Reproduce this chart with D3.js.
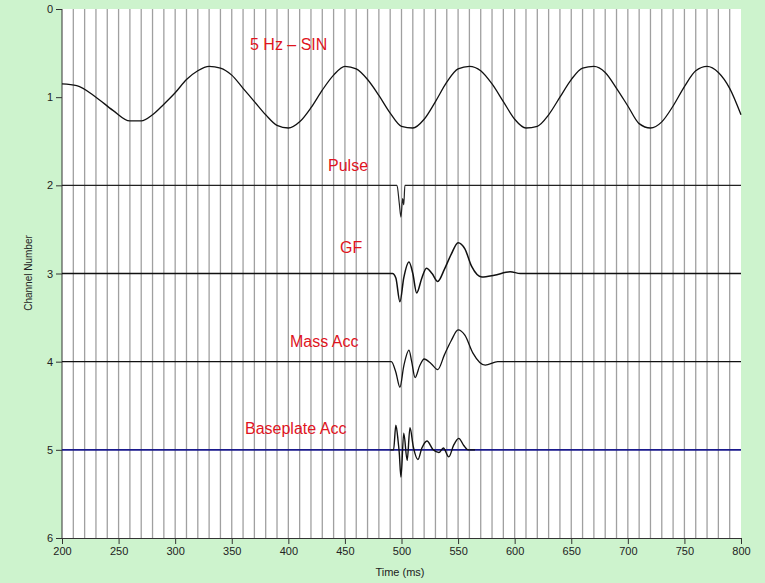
<!DOCTYPE html>
<html><head><meta charset="utf-8">
<script src="https://cdn.jsdelivr.net/npm/d3@7"></script>
<style>body{margin:0;background:#fff}</style></head>
<body><svg id="c" width="765" height="583"></svg>
<script>
const channelTicks=[0,1,2,3,4,5,6];
const timeTicks=[200,250,300,350,400,450,500,550,600,650,700,750,800];
const sinT=[200,213,230,245,260,270,280,290,300,310,320,330,340,350,360,370,380,390,400,410,420,430,440,450,460,470,480,490,500,510,520,530,540,550,560,570,580,590,600,610,620,630,640,650,660,670,680,690,700,710,720,730,740,750,760,770,780,790,800];
const sinV=[0.85,0.87,1.0,1.15,1.27,1.27,1.2,1.08,0.95,0.8,0.7,0.65,0.67,0.75,0.9,1.05,1.2,1.32,1.35,1.28,1.12,0.92,0.75,0.65,0.68,0.8,0.98,1.18,1.33,1.35,1.25,1.05,0.83,0.68,0.65,0.7,0.85,1.05,1.25,1.35,1.33,1.2,1.0,0.8,0.67,0.65,0.72,0.9,1.1,1.3,1.35,1.28,1.1,0.88,0.7,0.65,0.72,0.9,1.2];
const pulseT=[200,496,498,499.5,501,502,503,800];
const pulseV=[2,2,2.2,2.36,2.15,2.22,2,2];
const gfT=[200,492,495,498.6,502,506.6,510,513.4,518,522,527,532,538,544,550,556,562,571,582,596,605,800];
const gfV=[3,3,3.05,3.32,3.05,2.87,3.0,3.22,3.05,2.94,3.0,3.09,2.95,2.78,2.65,2.72,2.92,3.04,3.02,2.98,3.0,3.0];
const maT=[200,491,495,498.6,502,506.6,509,512,516,520,526,532,538,544,550,556,563,574,585,800];
const maV=[4,4,4.12,4.29,4.05,3.87,4.0,4.18,4.05,3.97,4.02,4.09,3.92,3.76,3.64,3.7,3.9,4.04,4.0,4.0];
const bpT=[200,800];
const bpV=[5,5];
const bpSigT=[490,493,495,497,498,499.5,502,505,507.5,510.5,514.5,518,522.5,528,533,537,541.8,546,550.6,555,559,565];
const bpSigV=[5,5,4.72,4.9,5.03,5.31,4.81,5.12,4.75,4.97,5.11,4.98,4.9,5.0,5.03,4.98,5.08,4.95,4.87,4.95,5.0,5.0];
const labels=["5 Hz – SIN","Pulse","GF","Mass Acc","Baseplate Acc"];
const labelPos=[[250,50],[328,171],[340,253],[290,347],[245,434]];

const svg=d3.select("#c");
svg.append("rect").attr("width",765).attr("height",583).attr("fill","#cdf3cd");
const x=d3.scaleLinear().domain([200,800]).range([62,741]);
const y=d3.scaleLinear().domain([0,6]).range([9,538]);
svg.append("rect").attr("x",62).attr("y",9).attr("width",679).attr("height",529).attr("fill","#fff");
svg.append("g").selectAll("line").data(d3.range(210,800,10)).join("line")
 .attr("x1",d=>x(d)).attr("x2",d=>x(d)).attr("y1",9).attr("y2",538).attr("stroke","#a0a0a0").attr("stroke-width",1.3);
const ya=svg.append("g").attr("transform","translate(62,0)").call(d3.axisLeft(y).tickValues(channelTicks).tickSize(6).tickFormat(d3.format("d")));
const xa=svg.append("g").attr("transform","translate(0,538)").call(d3.axisBottom(x).tickValues(timeTicks).tickSize(6));
[ya,xa].forEach(a=>{a.selectAll("text").attr("font-family","Liberation Sans").attr("font-size",11).attr("fill","#222");a.selectAll("line,path").attr("stroke","#333");});
ya.select(".domain").attr("d","M0,9V538");
svg.append("text").attr("transform","translate(32,273) rotate(-90)").attr("text-anchor","middle").attr("font-family","Liberation Sans").attr("font-size",10).attr("fill","#222").text("Channel Number");
svg.append("text").attr("x",400).attr("y",576).attr("text-anchor","middle").attr("font-family","Liberation Sans").attr("font-size",11).attr("fill","#222").text("Time (ms)");
const line=d3.line().x(d=>x(d[0])).y(d=>y(d[1]));
function tr(T,V,col,w){svg.append("path").datum(T.map((t,i)=>[t,V[i]])).attr("d",line.curve(d3.curveMonotoneX)).attr("fill","none").attr("stroke",col).attr("stroke-width",w);}
tr(sinT,sinV,"#111",1.3);
tr(pulseT,pulseV,"#222",1.2);
tr(gfT,gfV,"#111",1.5);
tr(maT,maV,"#111",1.3);
tr(bpT,bpV,"#1a1a8c",1.6);
tr(bpSigT,bpSigV,"#111",1.4);
svg.append("g").selectAll("text").data(labels).join("text").attr("x",(d,i)=>labelPos[i][0]).attr("y",(d,i)=>labelPos[i][1])
 .attr("font-family","Liberation Sans").attr("font-size",16).attr("fill","#e0141e").text(d=>d);
</script></body></html>
